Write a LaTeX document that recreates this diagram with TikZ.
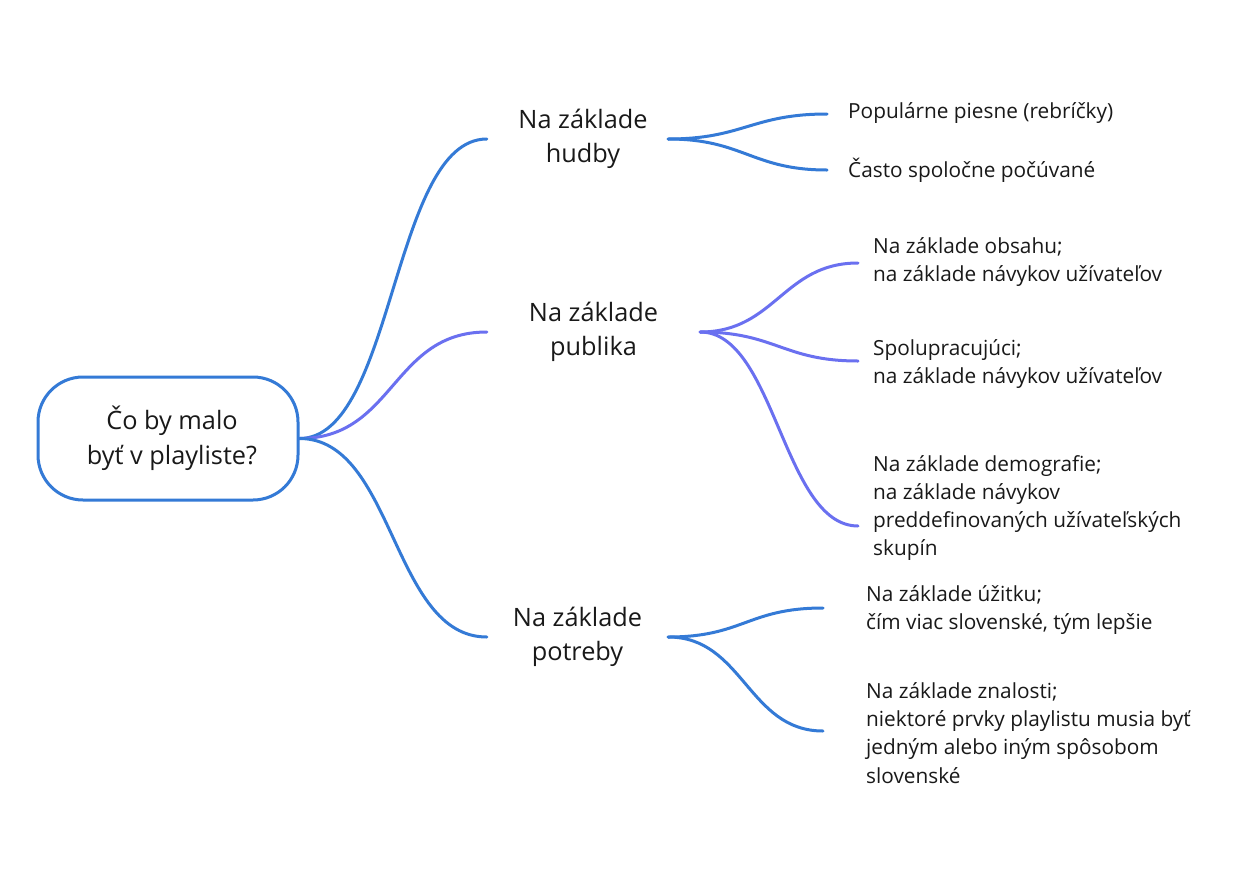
\documentclass[tikz,border=0pt]{standalone}
\usepackage{fontspec}
\setmainfont{Open Sans}
\definecolor{lineblue}{RGB}{52,122,214}
\definecolor{linevio}{RGB}{106,112,240}
\definecolor{txt}{RGB}{25,25,25}
\begin{document}
\begin{tikzpicture}[x=1pt,y=-1pt,
  conn/.style={line width=3pt, draw=lineblue, line cap=round},
  connv/.style={conn, draw=linevio},
  mid/.style={font=\fontsize{25.3}{34.5}\selectfont, align=center, inner sep=0pt, minimum height=60pt, text=txt},
  leaf/.style={font=\fontsize{20.8}{28.2}\selectfont, align=left, anchor=west, inner sep=0pt, text=txt},
]
\useasboundingbox[fill=white] (0,0) rectangle (1235,873);

% root
\node[draw=lineblue, line width=3pt, rounded corners=45pt, minimum width=260pt,
      minimum height=123pt, font=\fontsize{25.3}{35}\selectfont, align=center, text=txt]
      (root) at (168,438.5) {\hspace*{8pt}Čo by malo\\\hspace*{8pt}byť v playliste?};

% middle level
\node[mid, minimum width=181pt] (hudby)   at (577.5,139) {\hspace*{11pt}Na základe\\\hspace*{11pt}hudby};
\node[mid, minimum width=213pt] (publika) at (593.5,332) {Na základe\\publika};
\node[mid, minimum width=181pt] (potreby) at (577.5,637) {Na základe\\potreby};

% leaves
\node[leaf] (h1) at (848,113) {Populárne piesne (rebríčky)};
\node[leaf] (h2) at (848,170) {Často spoločne počúvané};
\node[leaf] (p1) at (873,262) {Na základe obsahu;\\na základe návykov užívateľov};
\node[leaf] (p2) at (873,364) {Spolupracujúci;\\na základe návykov užívateľov};
\node[leaf] (p3) at (873,508) {Na základe demografie;\\na základe návykov\\preddefinovaných užívateľských\\skupín};
\node[leaf] (n1) at (866,610) {Na základe úžitku;\\čím viac slovenské, tým lepšie};
\node[leaf] (n2) at (866,733) {Na základe znalosti;\\niektoré prvky playlistu musia byť\\jedným alebo iným spôsobom\\slovenské};

% root connectors
\draw[conn]  (root.east) .. controls +(95,0) and +(-95,0) .. (hudby.west);
\draw[connv] (root.east) .. controls +(95,0) and +(-95,0) .. (publika.west);
\draw[conn]  (root.east) .. controls +(95,0) and +(-95,0) .. (potreby.west);

% hudby
\draw[conn] (hudby.east) .. controls +(75,0) and +(-75,0) .. ([shift={(-21pt,-1pt)}]h1.west);
\draw[conn] (hudby.east) .. controls +(75,0) and +(-75,0) .. ([xshift=-21pt]h2.west);

% publika
\draw[connv] (publika.east) .. controls +(75,0) and +(-75,0) .. ([shift={(-15pt,-1pt)}]p1.west);
\draw[connv] (publika.east) .. controls +(75,0) and +(-75,0) .. ([shift={(-15pt,3pt)}]p2.west);
\draw[connv] (publika.east) .. controls +(75,0) and +(-75,0) .. ([shift={(-15pt,-18pt)}]p3.west);

% potreby
\draw[conn] (potreby.east) .. controls +(75,0) and +(-75,0) .. ([shift={(-43pt,2pt)}]n1.west);
\draw[conn] (potreby.east) .. controls +(75,0) and +(-75,0) .. ([shift={(-43pt,2pt)}]n2.west);
\end{tikzpicture}
\end{document}
